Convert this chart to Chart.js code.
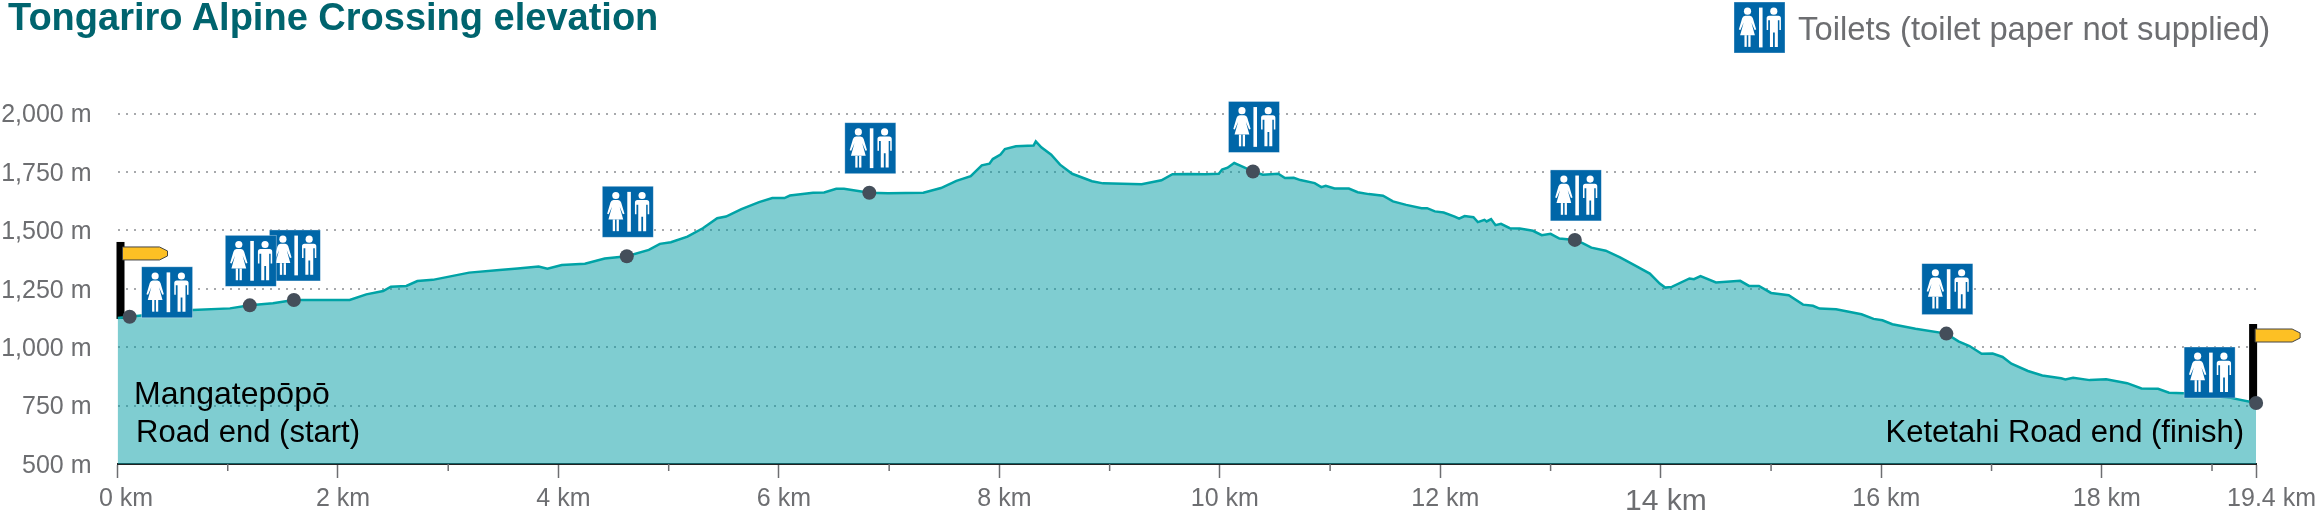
<!DOCTYPE html>
<html>
<head>
<meta charset="utf-8">
<title>Tongariro Alpine Crossing elevation</title>
<script src="https://cdn.jsdelivr.net/npm/chart.js@4"></script>
<style>
  html,body{ margin:0; padding:0; background:#fff; }
  #wrap{ position:relative; width:2317px; height:511px; overflow:hidden; font-family:"Liberation Sans",Arial,sans-serif; }
  canvas{ position:absolute; left:0; top:0; }
  h1{ position:absolute; left:8px; top:-5px; margin:0; font-size:38px; line-height:44px; font-weight:bold; color:#00646e; white-space:nowrap; }
  #key{ position:absolute; left:1798px; top:10px; font-size:32.8px; line-height:38px; color:#6d6e71; white-space:nowrap; }
</style>
</head>
<body>
<div id="wrap">
  <canvas id="chart" width="2317" height="511"></canvas>
  <h1>Tongariro Alpine Crossing elevation</h1>
  <div id="key">Toilets (toilet paper not supplied)</div>
</div>
<script>
// distance in km, height in m
const distances = [0,0.11,0.68,1.02,1.2,1.41,1.6,2.106,2.257,2.41,2.48,2.62,2.72,2.86,3.19,3.465,3.63,3.82,3.9,4.03,4.24,4.42,4.62,4.82,4.92,5.02,5.17,5.31,5.44,5.52,5.66,5.82,5.94,6.05,6.1,6.31,6.41,6.52,6.59,6.82,6.99,7.31,7.47,7.61,7.74,7.84,7.91,7.94,8.01,8.05,8.15,8.31,8.33,8.38,8.47,8.55,8.66,8.84,8.94,9.29,9.47,9.57,9.71,9.87,9.99,10.02,10.07,10.13,10.2,10.3,10.39,10.53,10.59,10.67,10.73,10.86,10.92,10.96,11.04,11.17,11.25,11.35,11.48,11.57,11.69,11.83,11.88,11.95,12.03,12.13,12.17,12.22,12.3,12.34,12.4,12.42,12.46,12.5,12.55,12.63,12.72,12.84,12.92,13,13.08,13.22,13.29,13.37,13.5,13.63,13.76,13.9,13.99,14.04,14.1,14.26,14.3,14.36,14.5,14.72,14.8,14.89,15,15.16,15.29,15.38,15.44,15.59,15.82,15.93,16.01,16.1,16.31,16.59,16.7,16.8,16.91,17.01,17.1,17.18,17.33,17.46,17.63,17.67,17.74,17.89,18.04,18.23,18.36,18.51,18.61,18.74,19.17,19.4];
const elevations = [1125,1130,1159,1166,1179,1188,1202,1202,1226,1240,1259,1262,1283,1288,1319,1330,1337,1345,1336,1352,1357,1379,1389,1416,1442,1449,1473,1509,1552,1559,1591,1621,1638,1638,1649,1661,1662,1678,1678,1661,1659,1661,1681,1712,1732,1778,1785,1805,1824,1848,1860,1863,1881,1855,1824,1781,1742,1710,1701,1697,1714,1740,1741,1740,1742,1760,1768,1788,1774,1752,1738,1742,1724,1725,1715,1702,1685,1691,1679,1679,1663,1655,1648,1624,1609,1595,1595,1581,1576,1559,1550,1561,1556,1535,1545,1538,1548,1522,1528,1509,1508,1498,1479,1485,1465,1459,1445,1426,1413,1384,1351,1315,1272,1255,1258,1294,1291,1304,1277,1284,1262,1262,1232,1222,1182,1177,1165,1162,1141,1121,1115,1098,1079,1058,1025,1005,972,973,958,929,898,879,867,862,869,859,863,846,823,822,805,803,783,761];

const toiletKm = [0.11,1.2,1.6,4.62,6.82,10.3,13.22,16.59,19.4];
const toiletElev = [1130,1179,1202,1389,1661,1752,1459,1058,761];

const yTicks = [500,750,1000,1250,1500,1750,2000];
const xTicks = [0,1,2,3,4,5,6,7,8,9,10,11,12,13,14,15,16,17,18,19,19.4];
const xLabelled = [0,2,4,6,8,10,12,14,16,18,19.4];

const TEAL_LINE = '#00a3a6';
const GREY = '#6d6e71';

function toiletIcon(c, x, y, s){
  c.save();
  c.translate(x, y);
  c.scale(s/100, s/100);
  c.fillStyle = '#0066a8';
  c.fillRect(0, 0, 100, 100);
  c.strokeStyle = 'rgba(255,255,255,.45)';
  c.lineWidth = 1.5;
  c.strokeRect(0, 0, 100, 100);
  c.fillStyle = '#fff';
  // woman
  c.beginPath(); c.arc(26.5, 18, 7, 0, Math.PI*2); c.fill();
  c.beginPath();
  c.moveTo(22,27); c.lineTo(31,27); c.quadraticCurveTo(35.5,27.5,37,32);
  c.lineTo(43.5,54); c.lineTo(40.5,55); c.lineTo(34,40); c.lineTo(41,65);
  c.lineTo(12,65); c.lineTo(19,40); c.lineTo(12.5,55); c.lineTo(9.5,54);
  c.lineTo(16,32); c.quadraticCurveTo(17.5,27.5,22,27);
  c.fill();
  c.fillRect(20.5, 65, 4.5, 23);
  c.fillRect(28, 65, 4.5, 23);
  // divider
  c.fillRect(49, 11, 7, 78);
  // man
  c.beginPath(); c.arc(78, 18, 7, 0, Math.PI*2); c.fill();
  c.beginPath();
  c.moveTo(69,27); c.lineTo(87,27); c.quadraticCurveTo(92,27,92,32);
  c.lineTo(92,55); c.lineTo(89,55); c.lineTo(89,36); c.lineTo(86,36);
  c.lineTo(86,88); c.lineTo(80,88); c.lineTo(80,60); c.lineTo(76.5,60);
  c.lineTo(76.5,88); c.lineTo(70.5,88); c.lineTo(70.5,36); c.lineTo(67,36);
  c.lineTo(67,55); c.lineTo(64,55); c.lineTo(64,32); c.quadraticCurveTo(64,27,69,27);
  c.fill();
  c.restore();
}

function flag(c, x, bottom){
  // black post with a yellow sign pointing right
  c.fillStyle = '#000';
  c.fillRect(x, bottom-77, 8, 77);
  const t = bottom-72;
  c.beginPath();
  c.moveTo(x+6, t); c.lineTo(x+43, t); c.lineTo(x+51, t+4);
  c.lineTo(x+51, t+9); c.lineTo(x+43, t+13); c.lineTo(x+6, t+13);
  c.closePath();
  c.fillStyle = '#fdc024';
  c.fill();
  c.strokeStyle = '#444';
  c.lineWidth = 1;
  c.stroke();
}

const extras = {
  id:'extras',
  beforeDatasetsDraw(chart){
    const c = chart.ctx, xs = chart.scales.x, ys = chart.scales.y;
    c.save();
    flag(c, xs.getPixelForValue(0)-1, ys.getPixelForValue(elevations[0])+1);
    flag(c, xs.getPixelForValue(19.4)-7, ys.getPixelForValue(elevations[elevations.length-1])-2);
    c.restore();
  },
  afterDraw(chart){
    const c = chart.ctx, xs = chart.scales.x, ys = chart.scales.y;
    const S = 51;
    c.save();
    // backwards, so the 1.2 km sign ends up over the 1.6 km one
    for(let i=toiletKm.length-1; i>=0; i--){
      const px = xs.getPixelForValue(toiletKm[i]);
      const py = ys.getPixelForValue(toiletElev[i]);
      if(i===0) toiletIcon(c, px+12, py-50, S);
      else if(i===toiletKm.length-1) toiletIcon(c, px-72, py-56, S);
      else toiletIcon(c, px-S/2+1, py-19-S, S);
    }
    toiletIcon(c, 1734, 2, S);

    c.fillStyle = '#000';
    c.font = '32px "Liberation Sans"';
    c.textBaseline = 'alphabetic';
    c.textAlign = 'left';
    c.fillText('Mangatepōpō', 134, 404);
    c.font = '31px "Liberation Sans"';
    c.fillText('Road end (start)', 136, 442);
    c.textAlign = 'right';
    c.fillText('Ketetahi Road end (finish)', 2244, 442);
    c.restore();
  },
  afterDatasetsDraw(chart){
    // short ticks on the odd kilometres
    const c = chart.ctx, xs = chart.scales.x;
    c.save();
    c.strokeStyle = GREY;
    c.lineWidth = 1.5;
    xTicks.filter(v => !xLabelled.includes(v)).forEach(v => {
      const px = xs.getPixelForValue(v);
      c.beginPath();
      c.moveTo(px, xs.top);
      c.lineTo(px, xs.top+7);
      c.stroke();
    });
    c.restore();
  }
};

new Chart(document.getElementById('chart'), {
  data:{
    datasets:[
      {
        type:'scatter',
        data:toiletKm.map((x,i)=>({x, y:toiletElev[i]})),
        pointRadius:7,
        pointHoverRadius:7,
        pointBackgroundColor:'#444e5a',
        pointBorderWidth:0,
        clip:false,
        order:1
      },
      {
        type:'line',
        data:distances.map((x,i)=>({x, y:elevations[i]})),
        borderColor:TEAL_LINE,
        borderWidth:2.5,
        backgroundColor:'rgba(0,155,163,.5)',
        fill:'origin',
        pointRadius:0,
        tension:0,
        order:2
      }
    ]
  },
  options:{
    responsive:false,
    animation:false,
    layout:{ padding:{ top:113.5, right:59, left:0, bottom:0 } },
    plugins:{ legend:{ display:false }, tooltip:{ enabled:false } },
    scales:{
      x:{
        type:'linear',
        min:0,
        max:19.4,
        afterFit(s){ s.height = 47; },
        afterBuildTicks(s){ s.ticks = xTicks.map(value=>({value})); },
        border:{ color:'#222', width:2 },
        grid:{
          drawOnChartArea:false,
          tickLength:14,
          tickWidth:1.5,
          tickColor:ctx => xLabelled.includes(ctx.tick.value) ? GREY : 'transparent'
        },
        ticks:{
          autoSkip:false,
          maxRotation:0,
          padding:6,
          labelOffset:5,
          color:GREY,
          font:ctx => ({ family:'"Liberation Sans"', size:ctx.tick && ctx.tick.value===14 ? 30 : 25 }),
          callback(v){
            if(!xLabelled.includes(v)) return '';
            // the end labels sit further right of their ticks
            const pad = v===0 ? '\u00a0' : v===19.4 ? '\u00a0\u00a0\u00a0' : '';
            return pad + v + ' km';
          }
        }
      },
      y:{
        min:500,
        max:2000,
        afterFit(s){ s.width = 117.5; },
        afterBuildTicks(s){ s.ticks = yTicks.map(value=>({value})); },
        border:{ display:false, dash:[2,6] },
        grid:{
          drawTicks:false,
          color:ctx => ctx.tick.value===500 ? 'transparent' : '#a7a9ac',
          lineWidth:2
        },
        ticks:{
          padding:26,
          labelOffset:2,
          color:GREY,
          font:{ family:'"Liberation Sans"', size:25 },
          callback:v => v.toLocaleString('en-US') + ' m'
        }
      }
    }
  },
  plugins:[extras]
});
</script>
</body>
</html>
